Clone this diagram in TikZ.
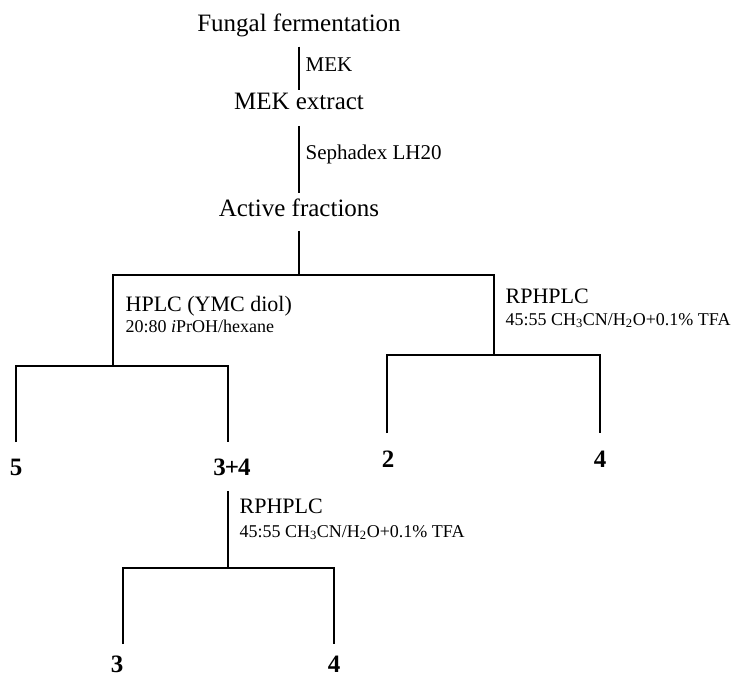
\documentclass[tikz,border=0pt]{standalone}
\usepackage{fontspec}
\setmainfont{Liberation Serif}
\usetikzlibrary{positioning}

\begin{document}
\begin{tikzpicture}[x=1pt, y=-1pt, line width=1.3pt]
    \useasboundingbox (0,0) rectangle (736,679);
    \tikzstyle{every node}+=[inner sep=0pt, anchor=base]
    \tikzstyle{stage}=[font=\fontsize{25}{30}\selectfont]
    \tikzstyle{sample}=[font=\fontsize{25}{30}\selectfont\bfseries]
    \tikzstyle{method}=[anchor=base west, font=\fontsize{22}{26}\selectfont]
    \tikzstyle{solvent}=[anchor=base west, font=\fontsize{18}{22}\selectfont]
    \tikzstyle{step label}=[anchor=base west, font=\fontsize{21}{25}\selectfont]

    \node[stage] (ferm) at (299, 32)  {Fungal fermentation};
    \node[stage] (mek)  at (299, 110) {MEK extract};
    \node[stage] (act)  at (299, 217) {Active fractions};

    \node[sample] (c5)  at (16, 475)  {5};
    \node[sample] (c34) at (232, 475) {3\kern-1pt+\kern-1pt4};
    \node[sample] (c2)  at (388, 467) {2};
    \node[sample] (c4a) at (600, 467) {4};
    \node[sample] (c3)  at (117, 672) {3};
    \node[sample] (c4b) at (334, 672) {4};

    \node[step label] at (305, 72)  {MEK};
    \node[step label] at (305, 160) {Sephadex LH20};
    \node[method]  at (125, 311) {HPLC (YMC diol)};
    \node[solvent] at (125, 332) {20:80 \textit{i}PrOH/hexane};
    \node[method]  at (505, 303) {RPHPLC};
    \node[solvent] at (505, 325) {45:55 CH\textsubscript{3}CN/H\textsubscript{2}O+0.1\% TFA};
    \node[method]  at (239, 513) {RPHPLC};
    \node[solvent] at (239, 537) {45:55 CH\textsubscript{3}CN/H\textsubscript{2}O+0.1\% TFA};

    \coordinate (forkA) at (299, 275);
    \coordinate (forkL) at (113, 366);
    \coordinate (forkR) at (494, 355);
    \coordinate (forkB) at (228, 568);
    \coordinate (l5)  at (16, 442);
    \coordinate (l34) at (228, 442);
    \coordinate (r2)  at (387, 433);
    \coordinate (r4)  at (600, 433);
    \coordinate (b3)  at (123, 644);
    \coordinate (b4)  at (334, 644);

    \draw[shorten <=8.6pt, shorten >=3.4pt] (ferm.south) -- (mek.north);
    \draw[shorten <=15pt, shorten >=6pt] (mek.south) -- (act.north);
    \draw[shorten <=13pt] (act.south) -- (forkA);
    \draw (forkL) |- (forkA) -| (forkR);
    \draw (l5) |- (forkL) -| (l34);
    \draw (r2) |- (forkR) -| (r4);
    \draw[shorten <=15pt] (c34.south -| forkB) -- (forkB);
    \draw (b3) |- (forkB) -| (b4);
\end{tikzpicture}
\end{document}
